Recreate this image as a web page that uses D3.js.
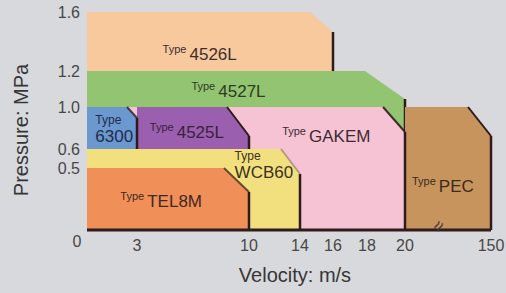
<!DOCTYPE html>
<html>
<head>
<meta charset="utf-8">
<script src="https://cdn.jsdelivr.net/npm/d3@7"></script>
<style>
  body { margin: 0; background: #d8d9dc; }
  svg { display: block; font-family: "Liberation Sans", Arial, sans-serif; }
</style>
</head>
<body>
<svg width="506" height="293"></svg>
<script>
// data: each type covers velocity [from, to] and pressure [0, max]
var types = ["4526L", "4527L", "PEC", "GAKEM", "4525L", "6300", "WCB60", "TEL8M"];
var velFrom = [0, 0, 20, 0, 3, 0, 0, 0];
var velTo = [16, 20, 150, 20, 10, 3, 14, 10];
var pressMax = [1.6, 1.2, 1.0, 1.0, 1.0, 1.0, 0.6, 0.5];

var velTicks = [3, 10, 14, 16, 18, 20, 150];
var pressTicks = [0.5, 0.6, 1.0, 1.2, 1.6];

// where each label sits (velocity, pressure of the big text baseline)
var labelVel = [4.6, 6.4, 30.5, 12.6, 3.8, 0.5, 9.1, 2.0];
var labelPress = [1.275, 1.056, 0.306, 0.667, 0.705, 0.667, 0.419, 0.185];

// styles
var fills = ["#f8c99c", "#92c472", "#c8945d", "#f5c3d3", "#9a5fae", "#6b98cf", "#f2df7e", "#f08f58"];
var cutX = [23, 40, 23, 22, 22, 10, 19, 25];
var cutY = [20, 28, 29, 25, 29, 11, 25, 24];
var diagDark = [0, 0, 1, 0.9, 1, 0.8, 0.3, 0.7];
var textCol = ["#3d2e2e", "#2f3a22", "#3a2a1c", "#3d2a30", "#3a2040", "#1f2c4a", "#3a3320", "#3d2a22"];
var stacked = [false, false, false, false, false, true, true, false];

var svg = d3.select("svg");
var dark = "#2e1c1c";

var x = d3.scaleLinear()
  .domain([0, 3, 10, 14, 16, 18, 20, 150])
  .range([87, 137, 249, 300, 333, 367, 405, 491]);

var y = d3.scaleLinear()
  .domain([0, 0.5, 0.6, 1.0, 1.2, 1.6])
  .range([230, 168, 149, 107, 71, 12]);

var shapes = types.map(function(t, i) {
  return { type: t, from: velFrom[i], to: velTo[i], max: pressMax[i], i: i };
});

var g = svg.selectAll(".shape")
  .data(shapes)
  .enter().append("g")
  .attr("class", "shape");

g.append("path")
  .attr("fill", function(d) { return fills[d.i]; })
  .attr("d", function(d) {
    var x0 = x(d.from), x1 = x(d.to), y0 = y(0), y1 = y(d.max);
    var cx = cutX[d.i], cy = cutY[d.i];
    return "M" + x0 + "," + y0 + "L" + x0 + "," + y1 + "L" + (x1 - cx) + "," + y1 +
      "L" + x1 + "," + (y1 + cy) + "L" + x1 + "," + y0 + "Z";
  });

// dark chamfer line
g.append("path")
  .attr("fill", "none")
  .attr("stroke", dark)
  .attr("stroke-width", 2)
  .attr("stroke-opacity", function(d) { return diagDark[d.i]; })
  .attr("d", function(d) {
    var x1 = x(d.to), y1 = y(d.max);
    return "M" + (x1 - cutX[d.i]) + "," + y1 + "L" + x1 + "," + (y1 + cutY[d.i]);
  });

// dark right edge
g.append("line")
  .attr("stroke", dark)
  .attr("stroke-width", 2.5)
  .attr("x1", function(d) { return x(d.to); })
  .attr("x2", function(d) { return x(d.to); })
  .attr("y1", function(d) { return y(d.max) + cutY[d.i]; })
  .attr("y2", y(0));

// labels
g.each(function(d) {
  var sel = d3.select(this);
  var lx = x(labelVel[d.i]), ly = y(labelPress[d.i]);
  var col = textCol[d.i];
  if (stacked[d.i]) {
    sel.append("text")
      .attr("x", lx).attr("y", ly - 18)
      .attr("font-size", 12).attr("fill", col)
      .text("Type");
    sel.append("text")
      .attr("x", lx).attr("y", ly)
      .attr("font-size", 17).attr("fill", col)
      .text(d.type);
  } else {
    var t = sel.append("text")
      .attr("x", lx).attr("y", ly - 7)
      .attr("fill", col);
    t.append("tspan").attr("font-size", 11).text("Type ");
    t.append("tspan").attr("font-size", 17).attr("dy", 7).text(d.type);
  }
});

// baseline
svg.append("line")
  .attr("x1", x(0)).attr("x2", x(150))
  .attr("y1", y(0)).attr("y2", y(0))
  .attr("stroke", dark)
  .attr("stroke-width", 3);

// axis break mark
svg.append("text")
  .attr("transform", "translate(" + (x(20) + 0.4 * (x(150) - x(20))) + "," + (y(0) - 3) + ") rotate(-60)")
  .attr("text-anchor", "middle")
  .attr("dominant-baseline", "middle")
  .attr("font-size", 19)
  .attr("fill", "#4a3a3a")
  .text("\u2248");

// tick labels
svg.selectAll(".xt")
  .data(velTicks)
  .enter().append("text")
  .attr("class", "xt")
  .attr("x", function(d) { return x(d); })
  .attr("y", y(0) + 21)
  .attr("text-anchor", "middle")
  .attr("font-size", 16)
  .attr("fill", "#474747")
  .text(function(d) { return d; });

svg.append("text")
  .attr("x", x(0) - 10)
  .attr("y", y(0) + 17)
  .attr("text-anchor", "middle")
  .attr("font-size", 16)
  .attr("fill", "#474747")
  .text("0");

svg.selectAll(".yt")
  .data(pressTicks)
  .enter().append("text")
  .attr("class", "yt")
  .attr("x", 80)
  .attr("y", function(d) { return y(d) + 6; })
  .attr("text-anchor", "end")
  .attr("font-size", 16)
  .attr("fill", "#474747")
  .text(d3.format(".1f"));

// axis titles
svg.append("text")
  .attr("transform", "translate(28,130) rotate(-90)")
  .attr("text-anchor", "middle")
  .attr("font-size", 20)
  .attr("fill", "#363636")
  .text("Pressure: MPa");

svg.append("text")
  .attr("x", 295)
  .attr("y", 282)
  .attr("text-anchor", "middle")
  .attr("font-size", 20)
  .attr("fill", "#363636")
  .text("Velocity: m/s");
</script>
</body>
</html>
